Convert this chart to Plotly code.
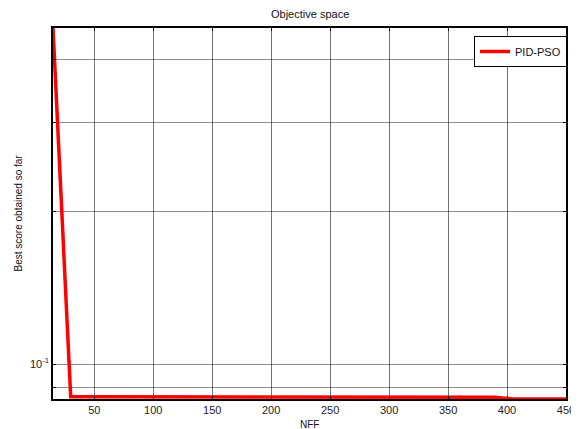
import plotly.graph_objects as go
import math

# Data
nff = [15, 30, 45, 60, 75, 90, 105, 120, 135, 150, 165, 180, 195, 210, 225,
       240, 255, 270, 285, 300, 315, 330, 345, 360, 375, 390, 405, 420, 435, 450]
best_score = [0.461, 0.0862, 0.0862, 0.0862, 0.0862, 0.0862, 0.0862, 0.0862, 0.0862, 0.0862,
              0.0862, 0.0862, 0.0862, 0.0862, 0.0862, 0.0862, 0.0862, 0.0862, 0.0862, 0.0862,
              0.0862, 0.0862, 0.0862, 0.0861, 0.0861, 0.0860, 0.0853, 0.0853, 0.0853, 0.0853]
series_name = "PID-PSO"
x_ticks = [50, 100, 150, 200, 250, 300, 350, 400, 450]
y_ticks = [0.09, 0.1, 0.2, 0.3, 0.4]
y_ticktext = ["", "10<sup>-1</sup>", "", "", ""]

# page body adds an 8px offset; work in figure coordinates = screen - 8
OFF = 8
W, H = 579 - OFF, 429 - OFF
L, T = 53 - OFF, 28 - OFF
R = W - (566 - OFF)
B = H - (399 - OFF)
pw, ph = W - L - R, H - T - B

fig = go.Figure()
fig.add_trace(go.Scatter(x=nff, y=best_score, mode="lines", name=series_name,
                         line=dict(color="#ff0000", width=3.5)))

font_family = "Liberation Sans, Arial, sans-serif"
fig.update_layout(
    width=W, height=H,
    margin=dict(l=L, r=R, t=T, b=B, autoexpand=False),
    paper_bgcolor="white", plot_bgcolor="white",
    font=dict(family=font_family, size=11, color="#222"),
    showlegend=True,
    legend=dict(x=(567 - 53) / pw, xanchor="right", y=1 - (36 - 28) / ph, yanchor="top",
                bordercolor="black", borderwidth=1, bgcolor="white",
                font=dict(size=11, color="#111"), itemwidth=30),
    annotations=[
        dict(text="Objective space", xref="paper", yref="paper",
             x=0.5, y=1 + (28 - 14) / ph, xanchor="center", yanchor="middle",
             showarrow=False, font=dict(size=11, color="#111")),
        dict(text="NFF", xref="paper", yref="paper",
             x=0.5, y=-(424 - 399) / ph, xanchor="center", yanchor="middle",
             showarrow=False, font=dict(size=10, color="#111")),
        dict(text="Best score obtained so far", xref="paper", yref="paper",
             x=-(53 - 18) / pw, y=0.5, xanchor="center", yanchor="middle", textangle=-90,
             showarrow=False, font=dict(size=10, color="#111")),
    ],
)
fig.update_xaxes(
    range=[15, 450], tickvals=x_ticks, automargin=False,
    showgrid=True, gridcolor="rgba(0,0,0,0.55)", gridwidth=1,
    showline=True, linecolor="black", linewidth=1.5, mirror="ticks",
    ticks="inside", ticklen=3, tickcolor="black",
    zeroline=False,
    tickfont=dict(size=11, color="#222"),
)
fig.update_yaxes(
    type="log", range=[math.log10(0.0853), math.log10(0.461)], automargin=False,
    tickvals=y_ticks, ticktext=y_ticktext,
    showgrid=True, gridcolor="rgba(0,0,0,0.45)", gridwidth=1,
    showline=True, linecolor="black", linewidth=1.5, mirror="ticks",
    ticks="inside", ticklen=3, tickcolor="black",
    zeroline=False,
    tickfont=dict(size=11, color="#222"),
)

fig.write_html("out.html")
